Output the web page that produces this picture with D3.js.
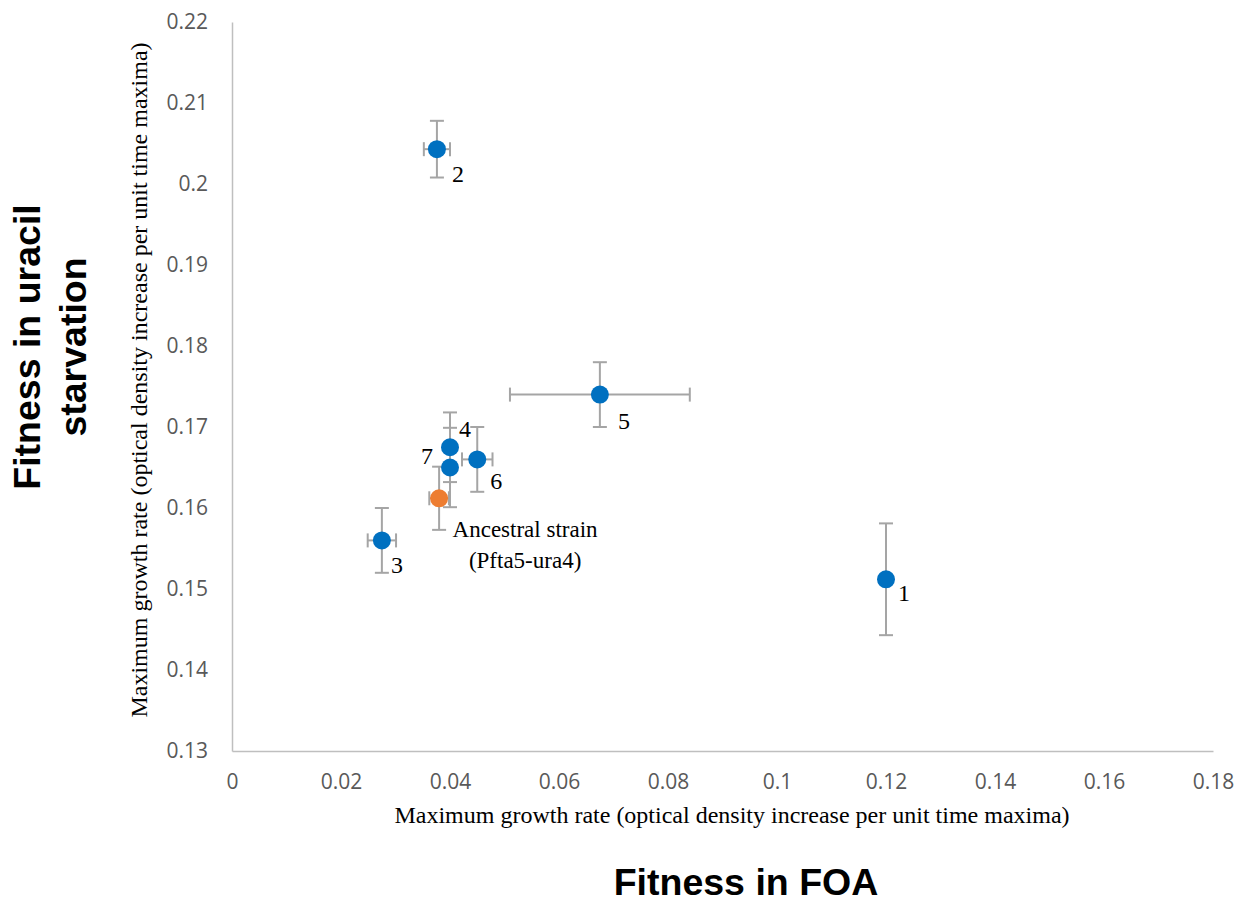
<!DOCTYPE html>
<html>
<head>
<meta charset="utf-8">
<script src="https://cdn.jsdelivr.net/npm/d3@7"></script>
<style>
  html, body { margin: 0; padding: 0; background: #fff; }
  svg { display: block; }
</style>
</head>
<body>
<svg id="chart" width="1244" height="902"></svg>
<script>
// Strain labels and measured growth rates
const strains = ["1", "2", "3", "4", "5", "6", "7", "Ancestral strain"];
const foaRate = [0.1200, 0.0376, 0.0275, 0.0400, 0.0675, 0.0450, 0.0400, 0.0380];
const uraRate = [0.1512, 0.2043, 0.1560, 0.1675, 0.1740, 0.1660, 0.1650, 0.1612];
const foaErr = [0.0000, 0.0024, 0.0026, 0.0000, 0.0165, 0.0028, 0.0000, 0.0018];
const uraErr = [0.0069, 0.0035, 0.0040, 0.0043, 0.0040, 0.0040, 0.0049, 0.0039];
const xTicks = [0, 0.02, 0.04, 0.06, 0.08, 0.1, 0.12, 0.14, 0.16, 0.18];
const yTicks = [0.13, 0.14, 0.15, 0.16, 0.17, 0.18, 0.19, 0.2, 0.21, 0.22];

const data = strains.map((s, i) => ({
  name: s, x: foaRate[i], y: uraRate[i], ex: foaErr[i], ey: uraErr[i],
  ancestral: s === "Ancestral strain"
}));

const svg = d3.select("#chart");
const x = d3.scaleLinear().domain([0, 0.18]).range([232, 1213]);
const y = d3.scaleLinear().domain([0.13, 0.22]).range([751, 22]);

const axisColor = "#BFBFBF";
const tickColor = "#595959";
const tickFont = "'Open Sans', 'Liberation Sans', sans-serif";
const fmt = d => String(+d.toFixed(2));

// Axes (no tick marks, tick labels only)
const xAxis = svg.append("g").attr("transform", "translate(0,751)")
  .call(d3.axisBottom(x).tickValues(xTicks).tickSize(0).tickPadding(23).tickFormat(fmt));
const yAxis = svg.append("g").attr("transform", "translate(232,0)")
  .call(d3.axisLeft(y).tickValues(yTicks).tickSize(0).tickPadding(24).tickFormat(fmt));
[xAxis, yAxis].forEach(g => {
  g.select(".domain").attr("stroke", axisColor).attr("stroke-width", 1.5);
  g.selectAll("text").attr("fill", tickColor).style("font-family", tickFont).style("font-size", "21px");
});

// Error bars
const errColor = "#A5A5A5";
const cap = 7;
const eb = svg.append("g").attr("stroke", errColor).attr("stroke-width", 2).attr("fill", "none");
data.forEach(d => {
  if (d.ey > 0) {
    const y0 = y(d.y - d.ey), y1 = y(d.y + d.ey), cx = x(d.x);
    eb.append("line").attr("x1", cx).attr("x2", cx).attr("y1", y0).attr("y2", y1);
    eb.append("line").attr("x1", cx - cap).attr("x2", cx + cap).attr("y1", y0).attr("y2", y0);
    eb.append("line").attr("x1", cx - cap).attr("x2", cx + cap).attr("y1", y1).attr("y2", y1);
  }
  if (d.ex > 0) {
    const x0 = x(d.x - d.ex), x1 = x(d.x + d.ex), cy = y(d.y);
    eb.append("line").attr("x1", x0).attr("x2", x1).attr("y1", cy).attr("y2", cy);
    eb.append("line").attr("x1", x0).attr("x2", x0).attr("y1", cy - cap).attr("y2", cy + cap);
    eb.append("line").attr("x1", x1).attr("x2", x1).attr("y1", cy - cap).attr("y2", cy + cap);
  }
});

// Points
svg.append("g").selectAll("circle").data(data).join("circle")
  .attr("cx", d => x(d.x)).attr("cy", d => y(d.y)).attr("r", 9)
  .attr("fill", d => d.ancestral ? "#ED7D31" : "#0070C0");

// Point labels (offsets in pixels from the marker)
const labelOffsets = {
  "1": [12, 22], "2": [15, 33], "3": [9, 33], "4": [9, -10],
  "5": [18, 34], "6": [13, 30], "7": [-29, -4]
};
const lblFont = "'Liberation Serif', 'Times New Roman', serif";
const labels = svg.append("g").style("font-family", lblFont).style("font-size", "24px").attr("fill", "#000");
data.filter(d => !d.ancestral).forEach(d => {
  const [dx, dy] = labelOffsets[d.name];
  labels.append("text").attr("x", x(d.x) + dx).attr("y", y(d.y) + dy).text(d.name);
});
const anc = data.find(d => d.ancestral);
labels.append("text").attr("x", x(anc.x) + 86).attr("y", y(anc.y) + 39)
  .attr("text-anchor", "middle").style("font-size", "23px").text("Ancestral strain");
labels.append("text").attr("x", x(anc.x) + 86).attr("y", y(anc.y) + 70)
  .attr("text-anchor", "middle").style("font-size", "23px").text("(Pfta5-ura4)");

// Axis titles
svg.append("text").attr("x", 732).attr("y", 823).attr("text-anchor", "middle")
  .style("font-family", lblFont).style("font-size", "24px").attr("fill", "#000")
  .text("Maximum growth rate (optical density increase per unit time maxima)");
svg.append("text").attr("transform", "translate(147,380) rotate(-90)").attr("text-anchor", "middle")
  .style("font-family", lblFont).style("font-size", "24px").attr("fill", "#000")
  .text("Maximum growth rate (optical density increase per unit time maxima)");

const bigFont = "'Liberation Sans', Arial, sans-serif";
svg.append("text").attr("x", 746).attr("y", 895).attr("text-anchor", "middle")
  .style("font-family", bigFont).style("font-size", "37.5px").style("font-weight", "bold").attr("fill", "#000")
  .text("Fitness in FOA");
const yt = svg.append("text").attr("transform", "translate(0,347) rotate(-90)").attr("text-anchor", "middle")
  .style("font-family", bigFont).style("font-size", "37.5px").style("font-weight", "bold").attr("fill", "#000");
yt.append("tspan").attr("x", 0).attr("y", 40).text("Fitness in uracil");
yt.append("tspan").attr("x", 0).attr("y", 86).text("starvation");
</script>
</body>
</html>
